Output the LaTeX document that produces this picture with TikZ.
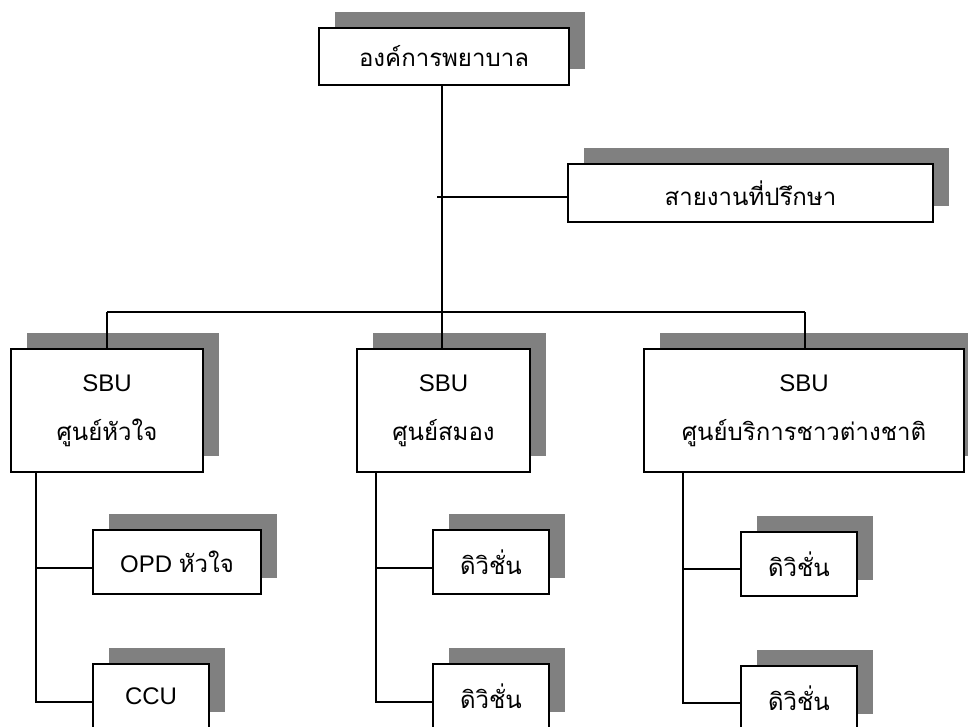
\documentclass[tikz,border=0pt]{standalone}
\usepackage{fontspec}
\setmainfont{Liberation Sans}
\newfontfamily\thai[Script=Thai]{Loma}
\usetikzlibrary{shadows}
\definecolor{shadowgray}{HTML}{808080}
\tikzset{
  sbox/.style={draw=black, fill=white, line width=1.6pt, inner sep=0pt,
    align=center, font=\fontsize{24}{49}\selectfont,
    general shadow={fill=shadowgray, shadow xshift=16pt, shadow yshift=16pt}},
  conn/.style={draw=black, line width=1.5pt}
}
\begin{document}
\begin{tikzpicture}[x=1pt,y=-1pt]
\useasboundingbox (0,0) rectangle (968,727);
\clip (0,0) rectangle (968,727);
% boxes
\node[sbox, minimum width=250pt, minimum height=57pt] (top) at (444,56.5) {\thai องค์การพยาบาล};
\node[sbox, minimum width=365pt, minimum height=58pt] (adv) at (750.5,193) {\thai สายงานที่ปรึกษา};
\node[sbox, minimum width=192pt, minimum height=123pt] (s1) at (107,410.5) {SBU\\{\thai ศูนย์หัวใจ}};
\node[sbox, minimum width=173pt, minimum height=123pt] (s2) at (443.5,410.5) {SBU\\{\thai ศูนย์สมอง}};
\node[sbox, minimum width=320pt, minimum height=123pt] (s3) at (804,410.5) {SBU\\{\thai ศูนย์บริการชาวต่างชาติ}};
\node[sbox, minimum width=168pt, minimum height=64pt] (c1a) at (177,562) {OPD {\thai หัวใจ}};
\node[sbox, minimum width=116pt, minimum height=64pt] (c1b) at (151,696) {CCU};
\node[sbox, minimum width=116pt, minimum height=64pt] (c2a) at (491,562) {\thai ดิวิชั่น};
\node[sbox, minimum width=116pt, minimum height=64pt] (c2b) at (491,696) {\thai ดิวิชั่น};
\node[sbox, minimum width=116pt, minimum height=64pt] (c3a) at (799,564) {\thai ดิวิชั่น};
\node[sbox, minimum width=116pt, minimum height=64pt] (c3b) at (799,698) {\thai ดิวิชั่น};
% junction coordinates
\coordinate (bus) at (442,312);
\coordinate (advj) at (437,197);
\coordinate (busL) at (107,312);
\coordinate (busR) at (805,312);
\coordinate (v1) at (36,472);
\coordinate (v1a) at (36,568);
\coordinate (v1b) at (36,702);
\coordinate (v2) at (376,472);
\coordinate (v2a) at (376,568);
\coordinate (v2b) at (376,702);
\coordinate (v3) at (683,472);
\coordinate (v3a) at (683,569);
\coordinate (v3b) at (683,703);
% connectors
\draw[conn] (top.south -| bus) -- (s2.north -| bus);
\draw[conn] (advj) -- (adv.west |- advj);
\draw[conn] (busL) -- (busR);
\draw[conn] (busL) -- (s1.north -| busL);
\draw[conn] (busR) -- (s3.north -| busR);
\draw[conn] (v1) -- (v1b) -- (c1b.west |- v1b);
\draw[conn] (v1a) -- (c1a.west |- v1a);
\draw[conn] (v2) -- (v2b) -- (c2b.west |- v2b);
\draw[conn] (v2a) -- (c2a.west |- v2a);
\draw[conn] (v3) -- (v3b) -- (c3b.west |- v3b);
\draw[conn] (v3a) -- (c3a.west |- v3a);
\end{tikzpicture}
\end{document}
